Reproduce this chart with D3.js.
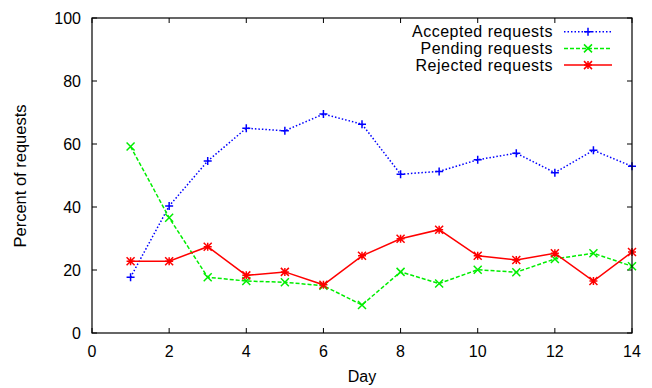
<!DOCTYPE html>
<html>
<head>
<meta charset="utf-8">
<script src="https://cdn.jsdelivr.net/npm/d3@7"></script>
<style>
  body { margin: 0; background: #fff; }
  text { font-family: "Liberation Sans", Arial, sans-serif; }
</style>
</head>
<body>
<svg id="chart" width="652" height="388"></svg>
<script>
const days = [1, 2, 3, 4, 5, 6, 7, 8, 9, 10, 11, 12, 13, 14];
const accepted = [17.7, 40.3, 54.6, 65.0, 64.2, 69.5, 66.3, 50.4, 51.3, 55.0, 57.1, 50.9, 58.0, 52.9];
const pending = [59.2, 36.6, 17.7, 16.5, 16.1, 15.0, 8.9, 19.4, 15.7, 20.1, 19.3, 23.5, 25.3, 21.2];
const rejected = [22.8, 22.8, 27.4, 18.3, 19.4, 15.3, 24.5, 29.9, 32.8, 24.5, 23.2, 25.3, 16.5, 25.7];
const xTicks = [0, 2, 4, 6, 8, 10, 12, 14];
const yTicks = [0, 20, 40, 60, 80, 100];

const series = [
  { name: "Accepted requests", values: accepted, color: "#0000ff", dash: "1.5,2", marker: "plus" },
  { name: "Pending requests", values: pending, color: "#00ee00", dash: "4,2", marker: "cross" },
  { name: "Rejected requests", values: rejected, color: "#ff0000", dash: null, marker: "star" }
];

const plotL = 92, plotR = 632, plotT = 18, plotB = 333;
const fs = 16;
const svg = d3.select("#chart");

const x = d3.scaleLinear().domain([0, 14]).range([plotL, plotR]);
const y = d3.scaleLinear().domain([0, 100]).range([plotB, plotT]);

// tick marks (inward, mirrored on top/right)
const tk = 5;
const ticks = svg.append("g").attr("stroke", "#000").attr("stroke-width", 1);
xTicks.forEach(t => {
  ticks.append("line").attr("x1", x(t)).attr("x2", x(t)).attr("y1", plotB).attr("y2", plotB - tk);
  ticks.append("line").attr("x1", x(t)).attr("x2", x(t)).attr("y1", plotT).attr("y2", plotT + tk);
});
yTicks.forEach(t => {
  ticks.append("line").attr("x1", plotL).attr("x2", plotL + tk).attr("y1", y(t)).attr("y2", y(t));
  ticks.append("line").attr("x1", plotR).attr("x2", plotR - tk).attr("y1", y(t)).attr("y2", y(t));
});

// tick labels
svg.append("g").selectAll("text").data(xTicks).join("text")
  .attr("x", d => x(d)).attr("y", plotB + 24)
  .attr("text-anchor", "middle").attr("font-size", fs)
  .text(d => d);
svg.append("g").selectAll("text").data(yTicks).join("text")
  .attr("x", plotL - 11).attr("y", d => y(d) + 6)
  .attr("text-anchor", "end").attr("font-size", fs)
  .text(d => d);

// axis titles
svg.append("text").attr("x", 362).attr("y", 382)
  .attr("text-anchor", "middle").attr("font-size", fs).text("Day");
svg.append("text")
  .attr("transform", "translate(26,176) rotate(-90)")
  .attr("text-anchor", "middle").attr("font-size", 16.5).text("Percent of requests");

function markerPath(type, s) {
  const plus = `M${-s},0H${s}M0,${-s}V${s}`;
  const cross = `M${-s},${-s}L${s},${s}M${-s},${s}L${s},${-s}`;
  if (type === "plus") return plus;
  if (type === "cross") return cross;
  return plus + cross;
}

const line = d3.line().x((d, i) => x(days[i])).y(d => y(d));

series.forEach(s => {
  svg.append("path").datum(s.values)
    .attr("d", line).attr("fill", "none")
    .attr("stroke", s.color).attr("stroke-width", 1.5)
    .attr("stroke-dasharray", s.dash);
  svg.append("g").selectAll("path").data(s.values).join("path")
    .attr("transform", (d, i) => `translate(${x(days[i])},${y(d)})`)
    .attr("d", markerPath(s.marker, 4))
    .attr("stroke", s.color).attr("stroke-width", 1.5).attr("fill", "none");
});

// legend
series.forEach((s, i) => {
  const ly = 31.7 + i * 16.7;
  svg.append("text").attr("x", 553).attr("y", ly + 5.5)
    .attr("text-anchor", "end").attr("font-size", fs)
    .attr("letter-spacing", 0.5).text(s.name);
  svg.append("line").attr("x1", 564).attr("x2", 612).attr("y1", ly).attr("y2", ly)
    .attr("stroke", s.color).attr("stroke-width", 1.5).attr("stroke-dasharray", s.dash);
  svg.append("path").attr("transform", `translate(588,${ly})`)
    .attr("d", markerPath(s.marker, 4))
    .attr("stroke", s.color).attr("stroke-width", 1.5).attr("fill", "none");
});

// frame
svg.append("rect").attr("x", plotL).attr("y", plotT)
  .attr("width", plotR - plotL).attr("height", plotB - plotT)
  .attr("fill", "none").attr("stroke", "#000").attr("stroke-width", 1.2);
</script>
</body>
</html>
